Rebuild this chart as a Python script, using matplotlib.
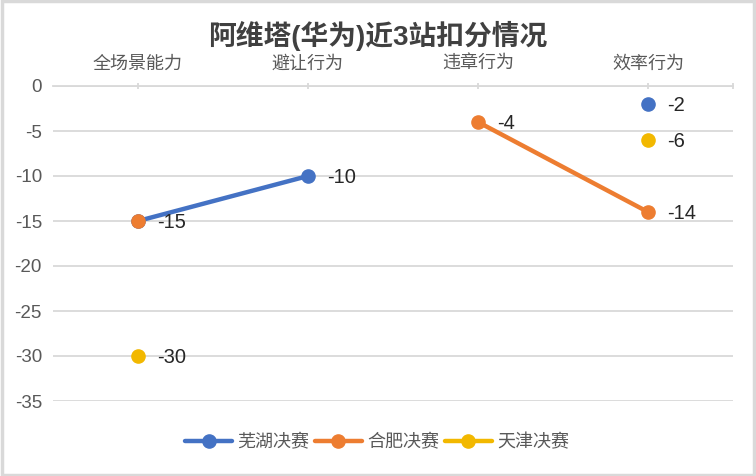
import numpy as np
import matplotlib
matplotlib.use("Agg")
import matplotlib.pyplot as plt
from matplotlib.patches import Rectangle

plt.rcParams['font.family'] = ['Liberation Sans', 'Noto Sans CJK SC', 'DejaVu Sans']

title = "阿维塔(华为)近3站扣分情况"
categories = ["全场景能力", "避让行为", "违章行为", "效率行为"]
series_names = ["芜湖决赛", "合肥决赛", "天津决赛"]
wuhu = [-15, -10, np.nan, -2]
hefei = [-15, np.nan, -4, -14]
tianjin = [-30, np.nan, np.nan, -6]
colors = ["#4472C4", "#ED7D31", "#F2B800"]
yticks = [0, -5, -10, -15, -20, -25, -30, -35]

fig = plt.figure(figsize=(7.56, 4.76), dpi=100)
W, H = 756, 476
ax = fig.add_axes([53 / W, 1 - 401 / H, (733 - 53) / W, (401 - 86) / H])

x = np.arange(len(categories))
all_series = [wuhu, hefei, tianjin]
for name, vals, c in zip(series_names, all_series, colors):
    ax.plot(x, vals, color=c, lw=3.2, marker='o', ms=9.5, label=name,
            solid_capstyle='round', zorder=3)

# data labels (skip duplicate overlapped label)
shown = set()
for vals, c in zip(all_series, colors):
    for xi, v in zip(x, vals):
        if np.isnan(v) or (xi, v) in shown:
            continue
        shown.add((xi, v))
        ax.annotate(f"{int(v)}", (xi, v), xytext=(14, -1), textcoords='offset points',
                    ha='left', va='center', fontsize=14.5, color='#262626')

ax.set_xlim(-0.5, 3.5)
ax.set_ylim(-35, 0)
ax.set_yticks(yticks)
ax.set_yticklabels([str(t) for t in yticks], fontsize=13.5, color='#595959')
ax.yaxis.set_tick_params(length=0, pad=8)
ax.grid(axis='y', color='#d9d9d9', lw=1.3, zorder=0)
ax.set_axisbelow(True)

ax.xaxis.tick_top()
ax.set_xticks(list(x) + [3.5])
ax.set_xticklabels(categories + [""], fontsize=13, color='#595959')
ax.xaxis.set_tick_params(length=5, width=1.3, color='#d9d9d9', direction='inout', pad=7)

for s in ['left', 'right', 'bottom']:
    ax.spines[s].set_visible(False)
ax.spines['top'].set_color('#d9d9d9')
ax.spines['top'].set_linewidth(1.3)

fig.text(378 / W, 1 - 36 / H, title, ha='center', va='center', fontsize=20,
         fontweight='bold', color='#404040')

leg = fig.legend(loc='center', bbox_to_anchor=(377 / W, 1 - 443 / H), ncol=3,
                 frameon=False, fontsize=13, handlelength=2.6, columnspacing=0.3,
                 handletextpad=0.3, borderaxespad=0)
for t in leg.get_texts():
    t.set_color('#595959')

fig.patches.append(Rectangle((0.002, 0.003), 0.995, 0.994, transform=fig.transFigure,
                             fill=False, edgecolor='#d9d9d9', lw=2.5))

fig.savefig("out.png", dpi=100)
